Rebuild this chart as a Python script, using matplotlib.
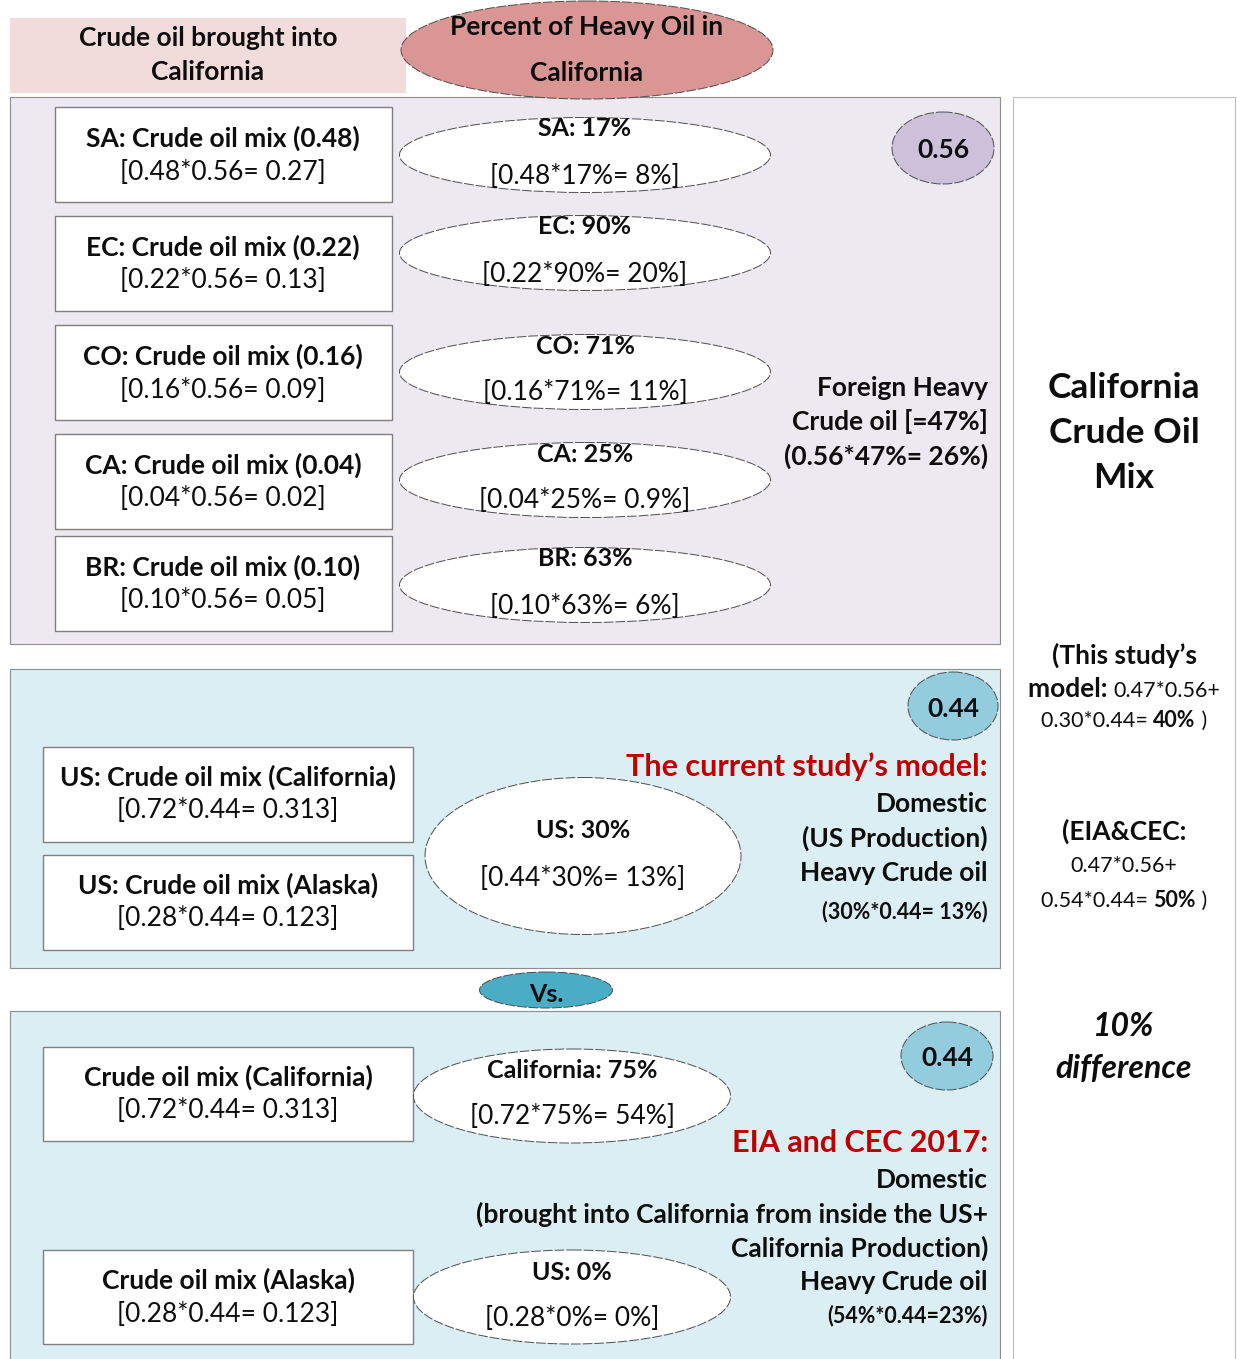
import matplotlib
matplotlib.use("Agg")
import matplotlib.pyplot as plt
from matplotlib.patches import Rectangle, Ellipse

# ---------------- data ----------------
foreign_regions = ["SA", "EC", "CO", "CA", "BR"]
foreign_shares = ["0.48", "0.22", "0.16", "0.04", "0.10"]
foreign_products = ["0.27", "0.13", "0.09", "0.02", "0.05"]
foreign_heavy_pct = ["17%", "90%", "71%", "25%", "63%"]
foreign_heavy_contrib = ["8%", "20%", "11%", "0.9%", "6%"]
foreign_total_share = "0.56"
foreign_heavy_total = "47%"
foreign_heavy_weighted = "26%"

domestic_share = "0.44"
domestic_sources = ["California", "Alaska"]
domestic_fracs = ["0.72", "0.28"]
domestic_products = ["0.313", "0.123"]
model_heavy_pct = "30%"
model_heavy_weighted = "13%"
eia_heavy_pct = ["75%", "0%"]
eia_heavy_contrib = ["54%", "0%"]
eia_heavy_weighted = "23%"
model_mix_result = "40%"
eia_mix_result = "50%"
eia_domestic_frac = "0.54"
model_domestic_frac = "0.30"
difference = "10%"

# ---------------- figure ----------------
W, H = 1238, 1359
fig = plt.figure(figsize=(W / 100, H / 100), dpi=100)
ax = fig.add_axes([0, 0, 1, 1])
ax.set_xlim(0, W)
ax.set_ylim(H, 0)
ax.axis("off")

FONT = "Lato"
TXT = "#0d0d0d"
RED = "#c00000"
BASE = 19      # main text size
SMALL = 15.5   # small text size


def txt(x, y, s, size=BASE, weight="bold", ha="center", color=TXT, style="normal"):
    ax.text(x, y, s, fontsize=size, fontweight=weight, ha=ha, va="center",
            color=color, family=FONT, fontstyle=style)


def rich(x, y, pieces, ha="center"):
    """pieces: list of (string, weight, size). Drawn on one line."""
    r = fig.canvas.get_renderer()
    widths = []
    for s, w, sz in pieces:
        t = ax.text(0, 0, s, fontsize=sz, fontweight=w, family=FONT)
        widths.append(t.get_window_extent(renderer=r).width)
        t.remove()
    total = sum(widths)
    x0 = x - total / 2 if ha == "center" else (x - total if ha == "right" else x)
    for (s, w, sz), wd in zip(pieces, widths):
        ax.text(x0, y, s, fontsize=sz, fontweight=w, family=FONT, ha="left",
                va="baseline", color=TXT)
        x0 += wd


def box(x0, y0, x1, y1, fc="white", ec="#7f7f7f", lw=1.0, z=1):
    ax.add_patch(Rectangle((x0, y0), x1 - x0, y1 - y0, facecolor=fc,
                           edgecolor=ec, linewidth=lw, zorder=z))


def ell(cx, cy, w, h, fc="white", ec="#4d4d4d", lw=0.7, ls=(0, (10, 2)), z=2):
    ax.add_patch(Ellipse((cx, cy), w, h, facecolor=fc, edgecolor=ec,
                         linewidth=lw, linestyle=ls, zorder=z))


# ---------------- headers ----------------
box(10, 18, 406, 93, fc="#f2dcdb", ec="none")
txt(208, 38, "Crude oil brought into")
txt(208, 72, "California")
ell(587, 50, 372, 98, fc="#d99694")
txt(587, 27, "Percent of Heavy Oil in")
txt(587, 73, "California")

# ---------------- right column ----------------
box(1013, 97, 1235, 1362, fc="white", ec="#bfbfbf", lw=0.8)
txt(1124, 388, "California", size=25.5)
txt(1124, 433, "Crude Oil", size=25.5)
txt(1124, 478, "Mix", size=25.5)

txt(1124, 655, "(This study\u2019s", size=BASE)
rich(1124, 697, [("model: ", "bold", BASE), ("0.47*0.56+", "normal", SMALL)])
rich(1124, 727, [(f"{model_domestic_frac}*{domestic_share}= ", "normal", SMALL),
                 (model_mix_result, "bold", SMALL), (" )", "normal", SMALL)])
txt(1124, 831, "(EIA&CEC:", size=BASE)
txt(1124, 866, "0.47*0.56+", size=SMALL, weight="normal")
rich(1124, 907, [(f"{eia_domestic_frac}*{domestic_share}= ", "normal", SMALL),
                 (eia_mix_result, "bold", SMALL), (" )", "normal", SMALL)])
txt(1124, 1026, difference, size=23, style="italic")
txt(1124, 1069, "difference", size=23, style="italic")

# ---------------- foreign panel ----------------
box(10, 97, 1000, 644, fc="#ece9f0", ec="#8c8c8c", lw=0.8, z=0)
ell(943, 148, 102, 72, fc="#ccc0da")
txt(943, 150, foreign_total_share, size=BASE)

box_tops = [107, 216, 325, 434, 536]
ell_cy = [155, 253, 372, 480, 585]
for i, reg in enumerate(foreign_regions):
    y0 = box_tops[i]
    box(55, y0, 392, y0 + 95)
    txt(223, y0 + 31, f"{reg}: Crude oil mix ({foreign_shares[i]})")
    txt(223, y0 + 65, f"[{foreign_shares[i]}*{foreign_total_share}= {foreign_products[i]}]",
        weight="normal")
    cy = ell_cy[i]
    ell(585, cy, 371, 75)
    txt(585, cy - 26, f"{reg}: {foreign_heavy_pct[i]}", size=18)
    txt(585, cy + 21, f"[{foreign_shares[i]}*{foreign_heavy_pct[i]}= {foreign_heavy_contrib[i]}]",
        weight="normal")

txt(988, 388, "Foreign Heavy", ha="right")
txt(988, 422, f"Crude oil [={foreign_heavy_total}]", ha="right")
txt(988, 456, f"({foreign_total_share}*{foreign_heavy_total}= {foreign_heavy_weighted})", ha="right")

# ---------------- current study panel ----------------
box(10, 669, 1000, 968, fc="#dbeef4", ec="#8c8c8c", lw=0.8, z=0)
ell(953, 706, 90, 68, fc="#93cddd")
txt(953, 709, domestic_share)

for i, (src, y0) in enumerate(zip(domestic_sources, [747, 855])):
    box(43, y0, 413, y0 + 95)
    txt(228, y0 + 30, f"US: Crude oil mix ({src})")
    txt(228, y0 + 64, f"[{domestic_fracs[i]}*{domestic_share}= {domestic_products[i]}]",
        weight="normal")

ell(583, 856, 316, 157)
txt(583, 831, f"US: {model_heavy_pct}", size=18)
txt(583, 878, f"[{domestic_share}*{model_heavy_pct}= {model_heavy_weighted}]", weight="normal")

txt(988, 767, "The current study\u2019s model:", size=22, color=RED, ha="right")
txt(988, 804, "Domestic", ha="right")
txt(988, 838, "(US Production)", ha="right")
txt(988, 873, "Heavy Crude oil", ha="right")
txt(988, 912, f"({model_heavy_pct}*{domestic_share}= {model_heavy_weighted})", size=SMALL,
    ha="right")

# Vs.
ell(546, 990, 133, 36, fc="#4bacc6")
txt(546, 994, "Vs.", size=18)

# ---------------- EIA panel ----------------
box(10, 1011, 1000, 1362, fc="#dbeef4", ec="#8c8c8c", lw=0.8, z=0)
ell(947, 1056, 92, 68, fc="#93cddd")
txt(947, 1058, domestic_share)

eia_box_tops = [1047, 1250]
eia_ell_cy = [1096, 1297]
eia_labels = ["California", "US"]
for i, src in enumerate(domestic_sources):
    y0 = eia_box_tops[i]
    box(43, y0, 413, y0 + 94)
    txt(228, y0 + 30, f"Crude oil mix ({src})")
    txt(228, y0 + 64, f"[{domestic_fracs[i]}*{domestic_share}= {domestic_products[i]}]",
        weight="normal")
    cy = eia_ell_cy[i]
    ell(572, cy, 317, 94)
    txt(572, cy - 25, f"{eia_labels[i]}: {eia_heavy_pct[i]}", size=18)
    txt(572, cy + 21, f"[{domestic_fracs[i]}*{eia_heavy_pct[i]}= {eia_heavy_contrib[i]}]",
        weight="normal")

txt(988, 1143, "EIA and CEC 2017:", size=22, color=RED, ha="right")
txt(988, 1180, "Domestic", ha="right")
txt(988, 1214, "(brought into California from inside the US+", ha="right")
txt(988, 1248, "California Production)", ha="right")
txt(988, 1282, "Heavy Crude oil", ha="right")
txt(988, 1316, f"({eia_heavy_contrib[0]}*{domestic_share}={eia_heavy_weighted})", size=SMALL,
    ha="right")

fig.savefig("out.png", dpi=100, facecolor="white")
